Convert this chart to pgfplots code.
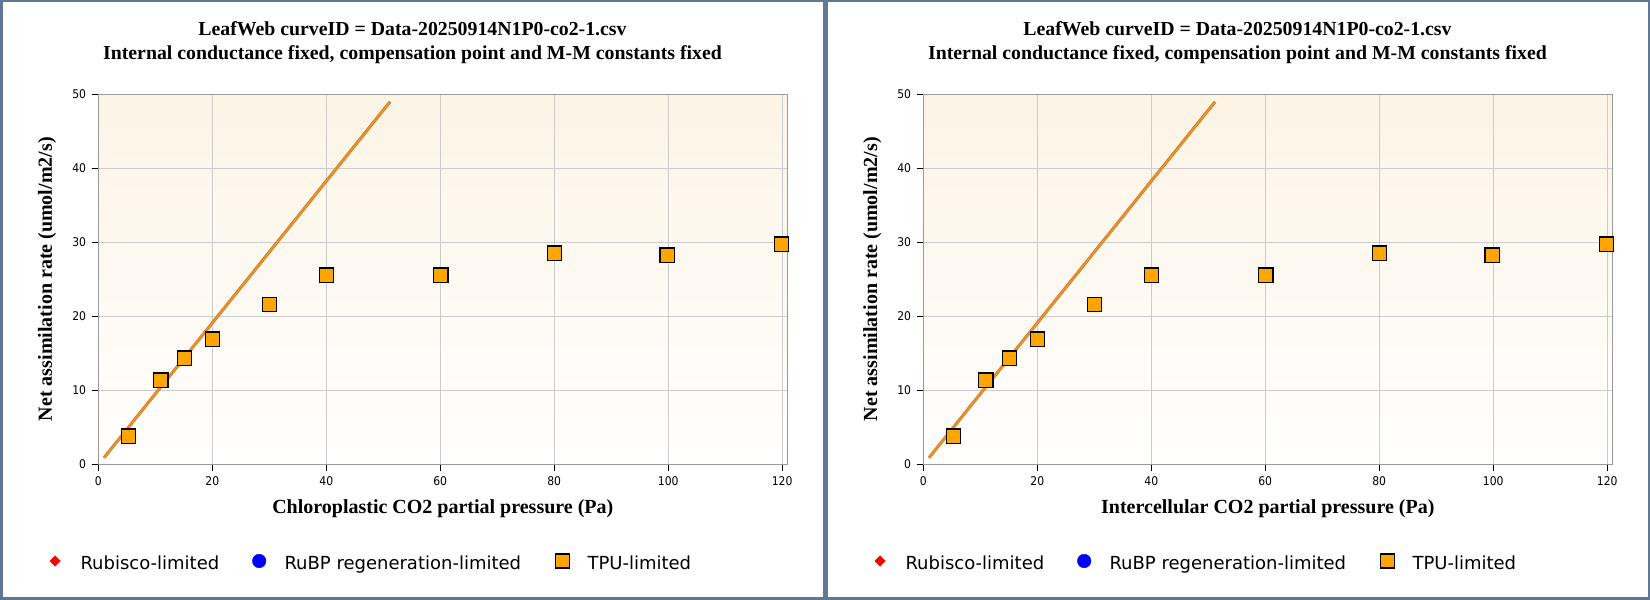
\documentclass[border=0pt]{standalone}
\usepackage{fontspec}
\setmainfont{Liberation Serif}
\newfontfamily\tah{DejaVu Sans Condensed}
\newfontfamily\verd{DejaVu Sans}
\usepackage{pgfplots}
\usepackage{pgfplotstable}
\pgfplotsset{compat=1.18}
\definecolor{bordc}{RGB}{94,120,150}
\definecolor{bgtop}{RGB}{252,244,229}
\definecolor{fitc}{RGB}{238,146,40}
\definecolor{fitd}{RGB}{205,115,35}
\definecolor{tpu}{RGB}{255,165,0}

\pgfplotstableread{
x y
5.35 3.78
10.98 11.35
15.13 14.32
20.0 16.89
30.07 21.58
40.0 25.54
60.1 25.54
80.1 28.51
99.8 28.24
119.9 29.73
}\tpudata
\pgfplotstableread{
x y
1.0 0.85
51.2 49.0
}\fitdata

\pgfplotsset{
 leafstyle/.style={
  scale only axis, width=689pt, height=369.7pt, anchor=south west,
  xmin=0, xmax=120.9, ymin=0, ymax=50,
  xtick={0,20,...,120}, ytick={0,10,...,50},
  grid=major, grid style={line width=0.8pt, color=gray!40},
  axis line style={line width=1pt, color=gray!80},
  tick align=outside, xtick pos=bottom, ytick pos=left,
  major tick length=6.5pt, tick style={black, line width=1pt},
  ticklabel style={font=\tah\fontsize{12}{14}\selectfont, inner sep=5.5pt},
  /pgf/number format/assume math mode=true,
  axis background/.style={top color=bgtop, bottom color=white},
  ylabel={Net assimilation rate (umol/m2/s)},
  label style={font=\bfseries\fontsize{20}{24}\selectfont, inner sep=0pt},
  xlabel style={at={(axis description cs:0.5,-0.1334)}, anchor=base},
  ylabel style={at={(axis description cs:-0.0672,0.5)}, anchor=base},
  legend image code/.code={\path[draw=none,fill=none] (-7pt,-7pt) rectangle (7pt,7pt); \draw[#1] plot coordinates {(0pt,0pt)};},
  legend cell align=left,
  legend columns=3,
  legend style={at={(axis description cs:-0.0730,-0.26237)}, anchor=west,
    draw=none, fill=none, inner sep=0pt,
    font=\verd\fontsize{18}{22}\selectfont,
    nodes={inner sep=0pt},
    /tikz/every odd column/.style={column sep=18.3pt},
    /tikz/every even column/.style={column sep=0pt}},
 },
 legdiam/.style={mark=square*, mark size=3.7pt, mark options={rotate=45, fill=red, draw=red, line width=0.4pt}},
 legcirc/.style={mark=*, mark size=6.8pt, mark options={fill=blue, draw=blue, line width=0.4pt}},
 legsq/.style={mark=square*, mark size=7pt, mark options={fill=tpu, draw=black, line width=1.2pt}},
}
\newcommand{\legtext}[2]{\makebox[#1][l]{\rule[-5pt]{0pt}{23.8pt}#2}}

\newcommand{\panelcontent}{%
  \addlegendimage{legdiam}
  \addlegendentry{\legtext{171.7pt}{Rubisco-limited}}
  \addlegendimage{legcirc}
  \addlegendentry{\legtext{270.7pt}{RuBP regeneration-limited}}
  \addlegendimage{legsq}
  \addlegendentry{\legtext{106pt}{TPU-limited}}
  \addplot[forget plot, no marks, line width=3pt, color=fitd] table[x=x,y=y]{\fitdata};
  \addplot[forget plot, no marks, line width=1.8pt, color=fitc] table[x=x,y=y]{\fitdata};
  \addplot[forget plot, only marks, mark=square*, mark size=7.1pt, mark options={fill=tpu, draw=black, line width=1.2pt}] table[x=x,y=y]{\tpudata};
}

\begin{document}
\begin{tikzpicture}
\useasboundingbox (0pt,0pt) rectangle (1650pt,600pt);
\fill[white] (0pt,0pt) rectangle (1650pt,600pt);
\draw[bordc, line width=2.5pt] (1.25pt,1.25pt) rectangle (823.75pt,598.75pt);
\draw[bordc, line width=2.5pt] (826.25pt,1.25pt) rectangle (1648.75pt,598.75pt);

\node[font=\bfseries\fontsize{19.8}{23}\selectfont, anchor=base, inner sep=0pt] at (412.5pt,564pt) {LeafWeb curveID = Data-20250914N1P0-co2-1.csv};
\node[font=\bfseries\fontsize{19.8}{23}\selectfont, anchor=base, inner sep=0pt] at (412.5pt,540.7pt) {Internal conductance fixed, compensation point and M-M constants fixed};
\node[font=\bfseries\fontsize{19.8}{23}\selectfont, anchor=base, inner sep=0pt] at (1237.5pt,564pt) {LeafWeb curveID = Data-20250914N1P0-co2-1.csv};
\node[font=\bfseries\fontsize{19.8}{23}\selectfont, anchor=base, inner sep=0pt] at (1237.5pt,540.7pt) {Internal conductance fixed, compensation point and M-M constants fixed};

\begin{axis}[leafstyle, at={(98.3pt,136pt)}, xlabel={Chloroplastic CO2 partial pressure (Pa)}]
\panelcontent
\end{axis}
\begin{axis}[leafstyle, at={(923.3pt,136pt)}, xlabel={Intercellular CO2 partial pressure (Pa)}]
\panelcontent
\end{axis}
\end{tikzpicture}
\end{document}
